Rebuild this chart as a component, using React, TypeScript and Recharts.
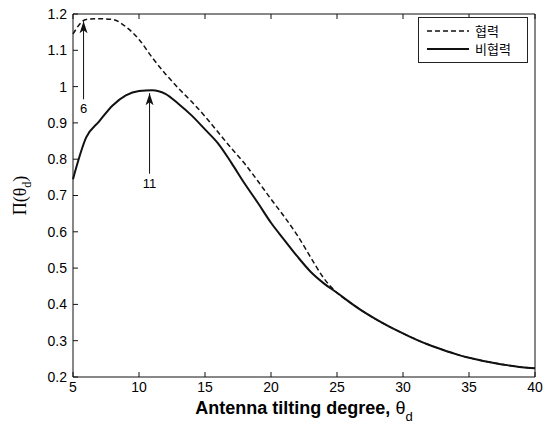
import { Line, LineChart, ReferenceLine, XAxis, YAxis } from "recharts";

// tilting degree (x) and payoff of both schemes
const thetas = [5, 6, 7, 8, 9, 10, 11, 12, 13, 14, 15, 16, 17, 18, 19, 20, 21, 22, 23, 24, 25, 26, 27, 28, 29, 30, 31, 32, 33, 34, 35, 36, 37, 38, 39, 40];
const cooperative = [1.145, 1.185, 1.187, 1.185, 1.165, 1.13, 1.08, 1.035, 0.995, 0.958, 0.918, 0.874, 0.83, 0.788, 0.74, 0.69, 0.642, 0.59, 0.53, 0.472, 0.432, 0.405, 0.38, 0.358, 0.338, 0.32, 0.303, 0.288, 0.275, 0.263, 0.253, 0.245, 0.238, 0.232, 0.227, 0.224];
const nonCooperative = [0.745, 0.86, 0.905, 0.948, 0.976, 0.988, 0.99, 0.98, 0.952, 0.92, 0.882, 0.843, 0.79, 0.733, 0.68, 0.625, 0.578, 0.532, 0.49, 0.458, 0.432, 0.405, 0.38, 0.358, 0.338, 0.32, 0.303, 0.288, 0.275, 0.263, 0.253, 0.245, 0.238, 0.232, 0.227, 0.224];

const xTicks = [5, 10, 15, 20, 25, 30, 35, 40];
const yTicks = [0.2, 0.3, 0.4, 0.5, 0.6, 0.7, 0.8, 0.9, 1, 1.1, 1.2];

const seriesNames = ["협력", "비협력"];

const arrows = [
  { at: 5.8, from: 0.965, to: 1.18, label: "6" },
  { at: 10.8, from: 0.76, to: 0.982, label: "11" }
];

const data = thetas.map((t, i) => ({ t, coop: cooperative[i], nonCoop: nonCooperative[i] }));

const tickFont = { fontFamily: "'Liberation Sans', Arial, sans-serif", fontSize: 14, fill: "#000" };

function arrowShape(label: string) {
  return (props: any) => {
    const { x1, y1, x2, y2 } = props;
    if (x1 == null) return <g />;
    return (
      <g>
        <line x1={x1} y1={y1} x2={x2} y2={y2} stroke="#111" strokeWidth={1} />
        <polygon points={`${x2},${y2} ${x2 - 4},${y2 + 12} ${x2},${y2 + 9} ${x2 + 4},${y2 + 12}`} fill="#111" />
        <text x={x1} y={y1 + 14} textAnchor="middle" fontFamily="'Liberation Sans', Arial, sans-serif" fontSize={13} fill="#000">
          {label}
        </text>
      </g>
    );
  };
}

function LegendBox() {
  return (
    <div
      style={{
        position: "absolute",
        left: 418,
        top: 17,
        border: "1px solid #222",
        background: "#fff",
        width: 108,
        padding: "4px 0",
        fontFamily: "'Noto Sans CJK KR', sans-serif",
        fontSize: 13,
        lineHeight: "18px"
      }}
    >
      <div style={{ display: "flex", alignItems: "center" }}>
        <svg width={56} height={18}>
          <line x1={8} y1={9} x2={50} y2={9} stroke="#111" strokeWidth={1.5} strokeDasharray="5 3" />
        </svg>
        <span>{seriesNames[0]}</span>
      </div>
      <div style={{ display: "flex", alignItems: "center" }}>
        <svg width={56} height={18}>
          <line x1={8} y1={9} x2={50} y2={9} stroke="#111" strokeWidth={2} />
        </svg>
        <span>{seriesNames[1]}</span>
      </div>
    </div>
  );
}

export default function App() {
  return (
    <div style={{ position: "absolute", left: 0, top: 0, width: 548, height: 428, background: "#fff" }}>
      <LineChart width={548} height={428} data={data} margin={{ top: 13, right: 12, left: 0, bottom: 0 }}>
        <XAxis
          dataKey="t"
          type="number"
          domain={[5, 40]}
          ticks={xTicks}
          stroke="#111"
          tickSize={-5}
          tickMargin={10}
          tick={tickFont}
          height={51}
          label={{
            content: (p: any) => {
              const vb = p.viewBox;
              return (
                <text x={vb.x + vb.width / 2} y={414} textAnchor="middle" fontFamily="'Liberation Sans', Arial, sans-serif" fontSize={18} fontWeight="bold" fill="#000">
                  Antenna tilting degree,{" "}
                  <tspan fontWeight="normal">θ</tspan>
                  <tspan fontWeight="normal" fontSize={13} dy={7}>d</tspan>
                </text>
              );
            }
          }}
        />
        <XAxis xAxisId="top" dataKey="t" type="number" domain={[5, 40]} ticks={xTicks} orientation="top" stroke="#111" tickSize={-5} tick={() => <g />} height={1} />
        <YAxis
          type="number"
          domain={[0.2, 1.2]}
          ticks={yTicks}
          stroke="#111"
          tickSize={-5}
          tickMargin={11}
          tick={tickFont}
          width={73}
          label={{
            content: (p: any) => {
              const vb = p.viewBox;
              const cx = 26;
              const cy = vb.y + vb.height / 2;
              return (
                <text x={cx} y={cy} transform={`rotate(-90 ${cx} ${cy})`} textAnchor="middle" fontFamily="'Liberation Serif', 'Times New Roman', serif" fontSize={18} fill="#000">
                  Π(θ<tspan fontSize={12} dy={5}>d</tspan><tspan dy={-5}>)</tspan>
                </text>
              );
            }
          }}
        />
        <YAxis yAxisId="right" orientation="right" type="number" domain={[0.2, 1.2]} ticks={yTicks} stroke="#111" tickSize={-5} tick={() => <g />} width={1} />
        <Line dataKey="coop" name={seriesNames[0]} stroke="#111" strokeWidth={1.5} strokeDasharray="5 3" dot={false} isAnimationActive={false} type="monotone" />
        <Line dataKey="nonCoop" name={seriesNames[1]} stroke="#111" strokeWidth={2} dot={false} isAnimationActive={false} type="monotone" />
        {arrows.map((a) => (
          <ReferenceLine
            key={a.label}
            segment={[
              { x: a.at, y: a.from },
              { x: a.at, y: a.to }
            ]}
            shape={arrowShape(a.label)}
          />
        ))}
      </LineChart>
      <LegendBox />
    </div>
  );
}
